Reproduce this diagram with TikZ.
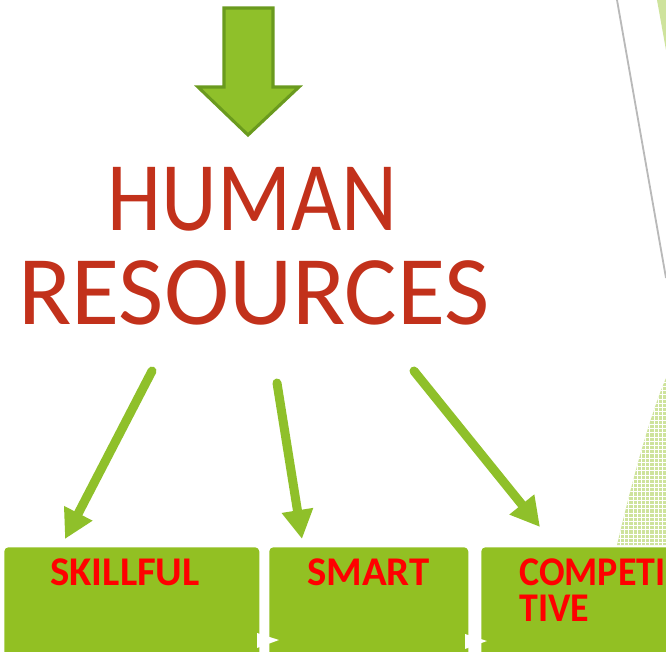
\documentclass[tikz,border=0pt]{standalone}
\usepackage{fontspec}
\setmainfont{Carlito}
\usetikzlibrary{arrows.meta,positioning,patterns,calc}

\definecolor{leaf}{HTML}{92C023}
\definecolor{leafarrow}{HTML}{8FC02A}
\definecolor{leafdark}{HTML}{6A9A1E}
\definecolor{brick}{HTML}{C2311B}
\definecolor{hotred}{HTML}{FF0000}
\newcommand\pxu{0.025cm}

\tikzset{
  bigarrow/.style={draw=leafdark,fill=leafarrow,line width=2.2pt,line join=miter},
  headline/.style={brick,inner sep=0pt,font=\fontsize{70}{67}\selectfont},
  pointer/.style={leafarrow,line width=6.4pt,line cap=round,
    -{Triangle[length=20.6pt,width=21.3pt]}},
  stepbox/.style={fill=leaf,rounded corners=3pt,inner sep=0pt,
    minimum height=160*\pxu,anchor=north west},
  steptext/.style={hotred,inner sep=0pt,anchor=north west,align=left,
    font=\bfseries\fontsize{29}{26}\selectfont},
}

\begin{document}
\begin{tikzpicture}[x=\pxu,y=-\pxu]
  \useasboundingbox (0,0) rectangle (666,652);
  \clip (0,0) rectangle (666,652);

  % background strokes on the right
  \fill[leaf!45] (657,0) -- (666,0) -- (666,50) -- cycle;
  \fill[leaf!45] (666,378) .. controls (648,420) and (630,490) .. (617,545) -- (666,545) -- cycle;
  \path[pattern=grid,pattern color=white] (666,378) .. controls (648,420) and (630,490) .. (617,545) -- (666,545) -- cycle;
  \draw[gray!55,line width=1.3pt] (617,0) -- (666,278);

  % arrow on top
  \draw[bigarrow] (224,8) -- (273,8) -- (273,87) -- (299,87) -- (248,135)
    -- (198,87) -- (224,87) -- cycle;

  \node[headline,anchor=base] (human) at (252.5,230) {\scalebox{0.88}[1]{HUMAN}};
  \node[headline,anchor=base] (resources) at (254,324) {RESOURCES};

  % boxes
  \node[stepbox,minimum width=255*\pxu] (skill) at (4,547) {};
  \node[stepbox,minimum width=199*\pxu] (smart) at (269,547) {};
  \node[stepbox,minimum width=199*\pxu] (comp) at (481,547) {};

  \node[steptext] (skilltxt) at (50,558) {SKILLFUL};
  \node[steptext] (smarttxt) at (307,558) {SMART};
  \node[steptext] (comptxt) at (519,558) {\scalebox{0.93}[1]{COMPETI}\\\scalebox{0.93}[1]{TIVE}};

  \fill[white] (257,633) -- (279,640) -- (257,648) -- cycle;
  \fill[white] (465,634) -- (487,641) -- (465,649) -- cycle;

  % pointers
  \coordinate (from1) at (152,371);
  \coordinate (from2) at (277,383);
  \coordinate (from3) at (414,371);
  \coordinate (to1) at (65,539);
  \coordinate (to2) at (302,539);
  \coordinate (to3) at (540,527);

  \draw[pointer] (from1) -- (to1);
  \draw[pointer] (from2) -- (to2);
  \draw[pointer] (from3) -- (to3);
\end{tikzpicture}
\end{document}
